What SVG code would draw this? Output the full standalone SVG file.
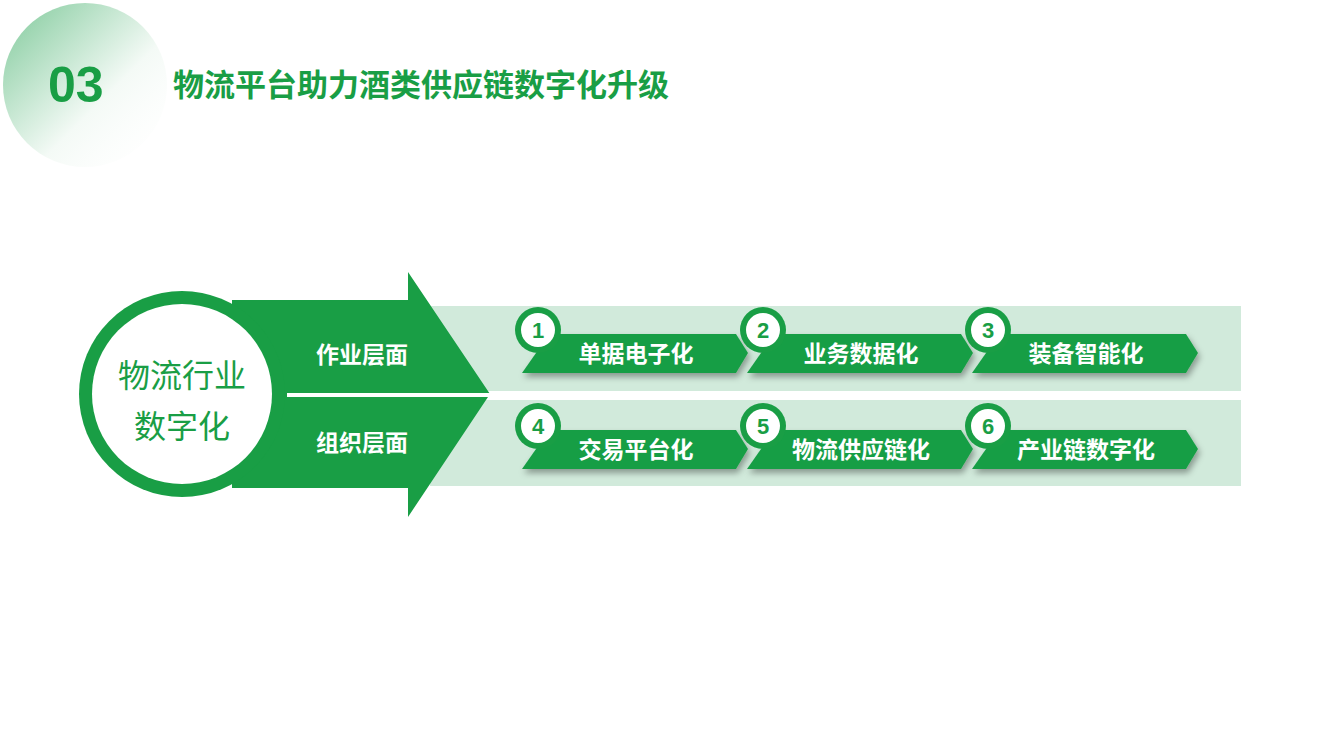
<svg xmlns="http://www.w3.org/2000/svg" width="1344" height="756" viewBox="0 0 1344 756">
<defs>
<linearGradient id="cg" x1="0" y1="0" x2="1" y2="1">
<stop offset="0" stop-color="#7fc99a"/><stop offset="0.6" stop-color="#f4faf6"/><stop offset="1" stop-color="#ffffff" stop-opacity="0"/>
</linearGradient>
<filter id="sh" x="-10%" y="-30%" width="130%" height="180%"><feDropShadow dx="2" dy="4" stdDeviation="3" flood-color="#000" flood-opacity="0.35"/></filter>
<g id="rib">
<path d="M556,334 L736,334 L748,353 L736,373 L522,373 L536,353 Z" fill="#199e45" filter="url(#sh)"/>
<circle cx="538" cy="330" r="23" fill="#199e45"/>
<circle cx="538" cy="330" r="17" fill="#fff"/>
</g>
</defs>
<style>
.t{font-family:"Noto Sans CJK SC",sans-serif;font-weight:700;}
.w{fill:#fff;font-size:23px;}
.n{fill:#199e45;font-size:22px;font-family:"Liberation Sans",sans-serif;font-weight:700;}
</style>
<circle cx="85" cy="85" r="82" fill="url(#cg)"/>
<text x="48" y="102" font-family="Liberation Sans,sans-serif" font-weight="700" font-size="50" fill="#199e45">03</text>
<text x="173" y="96" class="t" font-size="31" fill="#199e45">物流平台助力酒类供应链数字化升级</text>
<rect x="430" y="306" width="811" height="85" fill="#d1eadb"/>
<rect x="430" y="400" width="811" height="86" fill="#d1eadb"/>
<g id="arrow">
<path d="M232,300 L408,300 L408,272 L490,394 L408,517 L408,488 L232,488 Z" fill="#199e45"/>
<line x1="287" y1="395" x2="492" y2="395" stroke="#fff" stroke-width="4"/>
<text x="362" y="363" class="t w" text-anchor="middle">作业层面</text>
<text x="362" y="451" class="t w" text-anchor="middle">组织层面</text>
</g>
<g id="hub">
<circle cx="182" cy="394" r="103" fill="#199e45"/>
<circle cx="182" cy="394" r="90" fill="#fff"/>
<text x="182" y="387" font-family="Noto Sans CJK SC,sans-serif" font-size="32" fill="#199e45" text-anchor="middle">物流行业</text>
<text x="182" y="438" font-family="Noto Sans CJK SC,sans-serif" font-size="32" fill="#199e45" text-anchor="middle">数字化</text>
</g>
<g id="b1"><use href="#rib"/><text x="538" y="338" class="n" text-anchor="middle">1</text><text x="636" y="362" class="t w" font-size="22" text-anchor="middle">单据电子化</text></g>
<g id="b2" transform="translate(225,0)"><use href="#rib"/><text x="538" y="338" class="n" text-anchor="middle">2</text><text x="636" y="362" class="t w" font-size="22" text-anchor="middle">业务数据化</text></g>
<g id="b3" transform="translate(450,0)"><use href="#rib"/><text x="538" y="338" class="n" text-anchor="middle">3</text><text x="636" y="362" class="t w" font-size="22" text-anchor="middle">装备智能化</text></g>
<g id="b4" transform="translate(0,96)"><use href="#rib"/><text x="538" y="338" class="n" text-anchor="middle">4</text><text x="636" y="362" class="t w" font-size="22" text-anchor="middle">交易平台化</text></g>
<g id="b5" transform="translate(225,96)"><use href="#rib"/><text x="538" y="338" class="n" text-anchor="middle">5</text><text x="636" y="362" class="t w" font-size="22" text-anchor="middle">物流供应链化</text></g>
<g id="b6" transform="translate(450,96)"><use href="#rib"/><text x="538" y="338" class="n" text-anchor="middle">6</text><text x="636" y="362" class="t w" font-size="22" text-anchor="middle">产业链数字化</text></g>
<g id="connectors"/>
</svg>
